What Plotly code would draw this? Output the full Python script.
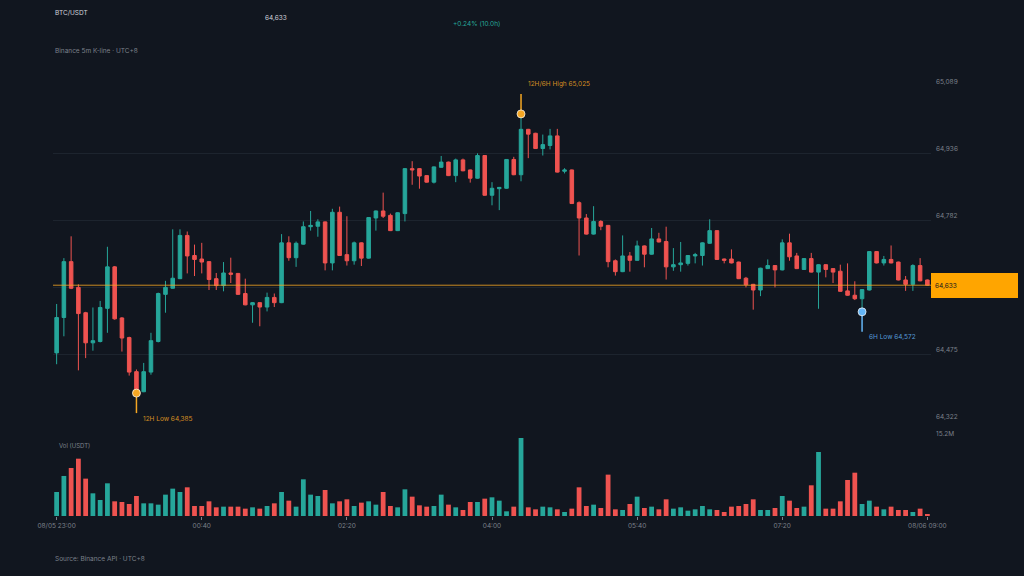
import numpy as np
import pandas as pd
import plotly.graph_objects as go

# ---------------- data (BTC/USDT, Binance 5m candles) ----------------
start_time = "2024-08-05 23:00"
n_candles = 121

opens = [
    64478, 64559, 64687, 64628, 64570, 64501, 64504, 64580, 64675, 64558,
    64513, 64435, 64389, 64434, 64504, 64612, 64626, 64648, 64747, 64701,
    64693, 64687, 64648, 64632, 64661, 64660, 64614, 64588, 64593, 64583,
    64605, 64593, 64730, 64696, 64727, 64767, 64768, 64778, 64684, 64800,
    64703, 64689, 64730, 64695, 64787, 64803, 64793, 64758, 64797, 64900,
    64900, 64884, 64869, 64903, 64915, 64884, 64920, 64897, 64878, 64930,
    64839, 64854, 64855, 64921, 64886, 64990, 64981, 64946, 64953, 64975,
    64894, 64897, 64822, 64787, 64750, 64779, 64770, 64689, 64664, 64700,
    64690, 64723, 64704, 64739, 64733, 64675, 64680, 64683, 64700, 64701,
    64729, 64758, 64693, 64693, 64686, 64649, 64635, 64622, 64671, 64678,
    64668, 64730, 64700, 64669, 64694, 64663, 64680, 64671, 64665, 64620,
    64610, 64602, 64622, 64710, 64684, 64692, 64686, 64645, 64635, 64678,
    64645,
]
highs = [
    64590, 64695, 64745, 64635, 64572, 64582, 64597, 64721, 64677, 64560,
    64515, 64440, 64455, 64524, 64616, 64643, 64761, 64761, 64756, 64726,
    64730, 64688, 64661, 64686, 64696, 64661, 64648, 64594, 64594, 64616,
    64614, 64750, 64745, 64733, 64779, 64803, 64784, 64779, 64808, 64813,
    64791, 64733, 64731, 64789, 64804, 64845, 64797, 64800, 64901, 64917,
    64901, 64885, 64905, 64929, 64916, 64923, 64923, 64898, 64935, 64931,
    64869, 64858, 64922, 64927, 65025.3, 64991, 64982, 64978, 64991, 64991,
    64901, 64898, 64825, 64796, 64814, 64782, 64771, 64692, 64747, 64709,
    64735, 64724, 64764, 64753, 64767, 64718, 64732, 64702, 64707, 64731,
    64784, 64759, 64694, 64715, 64687, 64652, 64636, 64673, 64692, 64679,
    64738, 64751, 64707, 64695, 64707, 64681, 64681, 64672, 64680, 64683,
    64642, 64624, 64711, 64711, 64700, 64724, 64687, 64654, 64681, 64695,
    64646,
]
lows = [
    64452, 64516, 64624, 64438, 64466, 64483, 64502, 64524, 64554, 64481,
    64426, 64385.9, 64388, 64428, 64502, 64570, 64625, 64647, 64660, 64654,
    64660, 64622, 64622, 64619, 64638, 64611, 64587, 64547, 64539, 64573,
    64583, 64592, 64689, 64675, 64726, 64758, 64744, 64667, 64667, 64700,
    64678, 64680, 64677, 64694, 64758, 64787, 64757, 64757, 64779, 64863,
    64854, 64868, 64866, 64902, 64883, 64869, 64894, 64868, 64877, 64838,
    64816, 64805, 64854, 64885, 64871, 64924, 64945, 64930, 64944, 64891,
    64889, 64819, 64701, 64749, 64749, 64759, 64674, 64655, 64663, 64664,
    64689, 64674, 64703, 64731, 64646, 64666, 64664, 64678, 64683, 64678,
    64728, 64691, 64683, 64683, 64647, 64628, 64577, 64608, 64670, 64628,
    64667, 64689, 64670, 64668, 64662, 64579, 64651, 64638, 64618, 64609,
    64599, 64572, 64621, 64683, 64678, 64683, 64644, 64620, 64620, 64642,
    64632,
]
closes = [
    64559, 64687, 64626, 64568, 64501, 64506, 64582, 64675, 64556, 64512,
    64434, 64391, 64435, 64506, 64614, 64628, 64649, 64747, 64700, 64692,
    64686, 64646, 64632, 64661, 64658, 64612, 64588, 64593, 64583, 64605,
    64593, 64730, 64696, 64729, 64767, 64770, 64778, 64684, 64800, 64701,
    64689, 64730, 64695, 64788, 64803, 64791, 64758, 64799, 64900, 64897,
    64883, 64869, 64904, 64915, 64884, 64920, 64895, 64878, 64930, 64839,
    64855, 64857, 64921, 64886, 64990, 64979, 64946, 64955, 64975, 64892,
    64897, 64820, 64787, 64750, 64779, 64768, 64687, 64664, 64700, 64690,
    64723, 64704, 64739, 64732, 64675, 64680, 64684, 64701, 64703, 64730,
    64758, 64692, 64690, 64684, 64648, 64634, 64622, 64672, 64678, 64668,
    64730, 64698, 64671, 64694, 64663, 64680, 64669, 64663, 64619, 64610,
    64602, 64623, 64710, 64684, 64692, 64684, 64645, 64635, 64678, 64643,
    64633,
]
# quote volume, millions of USDT
volumes_m = [
    4.68, 7.80, 9.35, 11.17, 7.28, 4.42, 3.12, 6.37, 2.86, 2.73,
    2.34, 3.90, 2.47, 2.47, 2.21, 4.16, 5.33, 4.68, 5.59, 1.95,
    1.95, 2.86, 1.69, 1.82, 1.82, 1.82, 1.43, 1.69, 1.43, 1.95,
    2.47, 4.68, 2.99, 1.82, 7.15, 4.16, 3.90, 5.07, 2.47, 2.86,
    3.25, 1.95, 2.60, 2.86, 2.21, 4.68, 1.95, 1.69, 5.20, 3.77,
    2.08, 1.82, 1.95, 4.16, 2.21, 1.69, 1.17, 2.73, 2.73, 3.38,
    3.64, 2.99, 0.91, 1.82, 15.20, 1.69, 1.30, 1.82, 1.69, 1.30,
    0.78, 1.43, 5.59, 1.95, 2.21, 1.56, 8.06, 1.30, 1.17, 2.34,
    3.77, 1.56, 1.82, 1.30, 3.25, 1.43, 1.69, 1.04, 1.30, 1.95,
    1.30, 1.17, 0.78, 1.82, 1.95, 2.34, 3.25, 1.17, 1.17, 1.56,
    3.90, 2.99, 1.56, 1.82, 5.98, 12.47, 1.43, 1.43, 2.86, 7.02,
    8.44, 2.34, 2.99, 1.82, 1.30, 1.82, 1.17, 1.17, 0.78, 1.43,
    0.26,
]
tick_every = 20          # candles between x-axis labels
window_6h = 72           # candles in 6 hours

# ---------------- derived ----------------
times = pd.date_range(start_time, periods=n_candles, freq="5min")
volumes = [v * 1e6 for v in volumes_m]
UP, DOWN = "#26a69a", "#ef5350"
BG = "#11161f"
GRID = "#1d242e"
MUTED = "#7c818b"
TEXT = "#d1d4dc"
ORANGE = "#f5a623"
BLUE = "#64b5f6"
FONT = "Inter"


def fmt(v):
    return f"{int(v):,}"


last = closes[-1]
chg = (last / opens[0] - 1) * 100
hours = (times[-1] - times[0]).total_seconds() / 3600

i_hi = int(np.argmax(highs))
i_lo = int(np.argmin(lows))
i_lo6 = len(lows) - window_6h + int(np.argmin(lows[-window_6h:]))
i_hi6 = len(highs) - window_6h + int(np.argmax(highs[-window_6h:]))
hi_label = "12H/6H High" if i_hi6 == i_hi else "12H High"

p_min, p_max = min(lows), max(highs)
pad = (p_max - p_min) * 0.1
y_lo, y_hi = p_min - pad, p_max + pad
yt = np.linspace(y_lo, y_hi, 6)
yt_text = ["" if abs(v - last) < (y_hi - y_lo) * 0.03 else f"{v:,.0f}" for v in yt]
vmax = max(volumes)

half = pd.Timedelta(minutes=2.5)
vol_colors = [UP if c >= o else DOWN for o, c in zip(opens, closes)]
tick_idx = list(range(0, n_candles, tick_every))
tick_vals = [times[i] for i in tick_idx]
tick_text = []
for k, i in enumerate(tick_idx):
    t = times[i]
    if k == 0 or k == len(tick_idx) - 1:
        tick_text.append(t.strftime("%m/%d %H:%M"))
    else:
        tick_text.append(t.strftime("%H:%M"))

fig = go.Figure()
fig.add_trace(go.Candlestick(
    x=times, open=opens, high=highs, low=lows, close=closes,
    increasing=dict(line=dict(color=UP, width=1), fillcolor=UP),
    decreasing=dict(line=dict(color=DOWN, width=1), fillcolor=DOWN),
    whiskerwidth=0, xaxis="x", yaxis="y", showlegend=False, hoverinfo="skip",
))
fig.add_trace(go.Bar(
    x=times, y=volumes, marker=dict(color=vol_colors, line=dict(width=0)),
    width=0.66 * 300000, xaxis="x2", yaxis="y2", showlegend=False, hoverinfo="skip",
))
# extreme markers
fig.add_trace(go.Scatter(
    x=[times[i_hi], times[i_lo]], y=[highs[i_hi], lows[i_lo]], mode="markers",
    marker=dict(size=8, color=ORANGE, line=dict(color="rgba(255,255,255,0.7)", width=1)),
    xaxis="x", yaxis="y", showlegend=False, hoverinfo="skip",
))
fig.add_trace(go.Scatter(
    x=[times[i_lo6]], y=[lows[i_lo6]], mode="markers",
    marker=dict(size=8, color=BLUE, line=dict(color="rgba(255,255,255,0.7)", width=1)),
    xaxis="x", yaxis="y", showlegend=False, hoverinfo="skip",
))

shapes = [
    dict(type="line", xref="x domain", x0=0, x1=1, yref="y", y0=last, y1=last,
         line=dict(color="rgba(245,166,35,0.8)", width=1), layer="above"),
]
for i, price, up, col in [(i_hi, highs[i_hi], True, ORANGE),
                          (i_lo, lows[i_lo], False, ORANGE),
                          (i_lo6, lows[i_lo6], False, BLUE)]:
    shapes.append(dict(type="line", xref="x", x0=times[i], x1=times[i],
                       yref="y", ysizemode="pixel", yanchor=price,
                       y0=0, y1=20 if up else -20,
                       line=dict(color=col, width=1.5), layer="below"))

ann_font = dict(family=FONT, size=6.5)
annotations = [
    dict(text="BTC/USDT", xref="paper", yref="paper", x=0, y=1.169, xanchor="left",
         yanchor="middle", showarrow=False, font=dict(ann_font, color=TEXT)),
    dict(text=fmt(last), xref="paper", yref="paper", x=0.254, y=1.157, xanchor="center",
         yanchor="middle", showarrow=False, font=dict(ann_font, color=TEXT)),
    dict(text=f"{chg:+.2f}% ({hours:.1f}h)", xref="paper", yref="paper", x=0.4823, y=1.144,
         xanchor="center", yanchor="middle", showarrow=False, font=dict(ann_font, color=UP)),
    dict(text="Binance 5m K-line · UTC+8", xref="paper", yref="paper", x=0, y=1.082,
         xanchor="left", yanchor="middle", showarrow=False, font=dict(ann_font, color=MUTED)),
    dict(text="Source: Binance API · UTC+8", xref="paper", yref="paper", x=0, y=-0.1,
         xanchor="left", yanchor="middle", showarrow=False, font=dict(ann_font, color=MUTED)),
    dict(text="Vol (USDT)", xref="paper", yref="paper", x=0.0046, y=0.165,
         xanchor="left", yanchor="middle", showarrow=False, font=dict(ann_font, size=6, color=MUTED)),
    # current price tag
    dict(text=fmt(last), xref="paper", yref="y", x=1, y=last, xanchor="left",
         yanchor="middle", showarrow=False, align="left", width=79, height=17,
         bgcolor="#ffa500", borderpad=3, borderwidth=1, bordercolor="#ffa500",
         font=dict(ann_font, color="#11161f")),
    # extremes labels
    dict(text=f"{hi_label} {fmt(highs[i_hi])}", xref="x", yref="y", x=times[i_hi], y=highs[i_hi],
         xanchor="left", yanchor="middle", xshift=5, yshift=30, showarrow=False,
         font=dict(ann_font, color="rgba(245,166,35,0.85)")),
    dict(text=f"12H Low {fmt(lows[i_lo])}", xref="x", yref="y", x=times[i_lo], y=lows[i_lo],
         xanchor="left", yanchor="middle", xshift=5, yshift=-26, showarrow=False,
         font=dict(ann_font, color="rgba(245,166,35,0.85)")),
    dict(text=f"6H Low {fmt(lows[i_lo6])}", xref="x", yref="y", x=times[i_lo6], y=lows[i_lo6],
         xanchor="left", yanchor="middle", xshift=5, yshift=-25, showarrow=False,
         font=dict(ann_font, color="rgba(100,181,246,0.85)")),
]

xrange = [times[0] - half, times[-1] + half]
fig.update_layout(
    width=1024, height=576,
    margin=dict(l=53, r=93, t=86, b=60),
    paper_bgcolor=BG, plot_bgcolor=BG,
    font=dict(family=FONT, size=6.5, color=MUTED),
    showlegend=False,
    bargap=0.3,
    hovermode=False,
    xaxis=dict(domain=[0, 1], anchor="y", range=xrange, type="date",
               showgrid=False, showticklabels=False, zeroline=False,
               rangeslider=dict(visible=False), showline=False),
    yaxis=dict(domain=[0.2209, 1], anchor="x", range=[y_lo, y_hi], side="right",
               tickvals=yt, ticktext=yt_text, showgrid=True, gridcolor=GRID, gridwidth=1,
               zeroline=False, showline=False, ticks="", ticklabelposition="outside top",
               ticklabelstandoff=4,
               tickfont=dict(family=FONT, size=6.5, color=MUTED)),
    xaxis2=dict(domain=[0, 1], anchor="y2", range=xrange, type="date", matches="x",
                showgrid=False, zeroline=False, showline=False,
                tickvals=tick_vals, ticktext=tick_text, ticks="outside", ticklen=3,
                tickcolor=MUTED, tickwidth=1,
                tickfont=dict(family=FONT, size=6.5, color=MUTED)),
    yaxis2=dict(domain=[0, 0.1814], anchor="x2", range=[0, vmax], side="right",
                tickvals=[vmax], ticktext=[f"{vmax/1e6:.1f}M"], showgrid=True,
                gridcolor=GRID, zeroline=False, showline=False, ticks="",
                ticklabelposition="outside top", ticklabelstandoff=4,
                tickfont=dict(family=FONT, size=6.5, color=MUTED)),
    shapes=shapes,
    annotations=annotations,
)

fig.write_html("out.html",
               config={"displayModeBar": False, "staticPlot": False},
               post_script="document.body.style.margin='0';"
                           "document.body.style.background='" + BG + "';")
